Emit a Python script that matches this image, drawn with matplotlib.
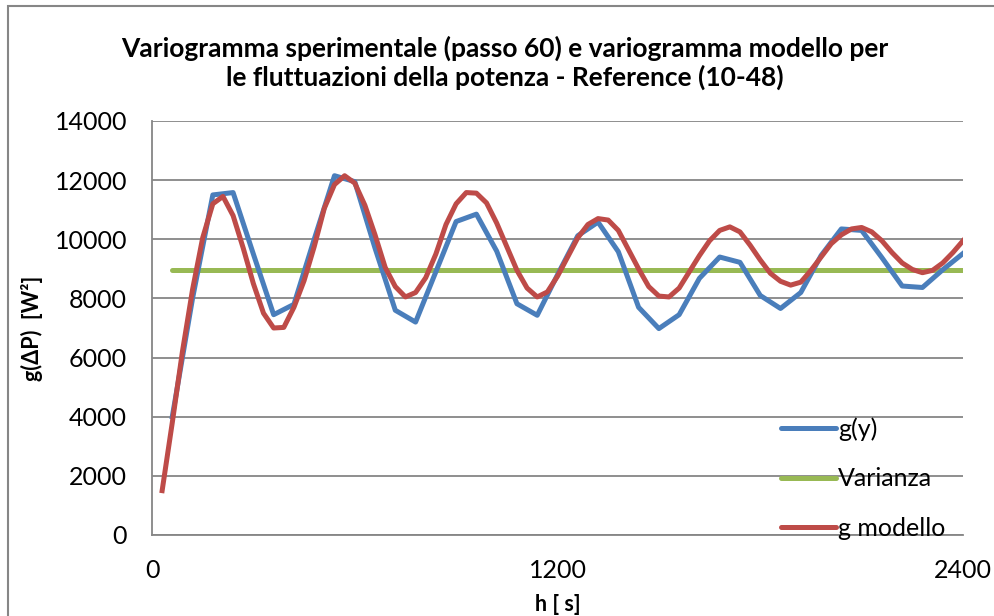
import matplotlib
matplotlib.use("Agg")
import matplotlib.pyplot as plt
from matplotlib.patches import Rectangle

plt.rcParams['font.family'] = ['Lato', 'DejaVu Sans']

# === dati ===
h_sper = [60, 120, 180, 240, 300, 360, 420, 480, 540, 600,
          660, 720, 780, 840, 900, 960, 1020, 1080, 1140, 1200,
          1260, 1320, 1380, 1440, 1500, 1560, 1620, 1680, 1740, 1800,
          1860, 1920, 1980, 2040, 2100, 2160, 2220, 2280, 2340, 2400]
g_sper = [4000, 8000, 11500, 11580, 9500, 7450, 7800, 10000, 12150, 11950,
          9700, 7600, 7200, 8900, 10600, 10850, 9600, 7820, 7430, 8800,
          10120, 10580, 9580, 7700, 6980, 7450, 8680, 9400, 9220, 8100,
          7660, 8200, 9450, 10350, 10300, 9380, 8420, 8370, 8970, 9520]

h_varianza = [60, 2400]
varianza = [8950, 8950]

h_mod = [30, 60, 90, 120, 150, 180, 210, 240, 270, 300,
         330, 360, 390, 420, 450, 480, 510, 540, 570, 600,
         630, 660, 690, 720, 750, 780, 810, 840, 870, 900,
         930, 960, 990, 1020, 1050, 1080, 1110, 1140, 1170, 1200,
         1230, 1260, 1290, 1320, 1350, 1380, 1410, 1440, 1470, 1500,
         1530, 1560, 1590, 1620, 1650, 1680, 1710, 1740, 1770, 1800,
         1830, 1860, 1890, 1920, 1950, 1980, 2010, 2040, 2070, 2100,
         2130, 2160, 2190, 2220, 2250, 2280, 2310, 2340, 2370, 2400]
g_mod = [1500, 3800, 6200, 8300, 10050, 11200, 11450, 10800, 9700, 8500,
         7500, 7000, 7020, 7700, 8600, 9750, 11050, 11850, 12150, 11900,
         11150, 10150, 9050, 8400, 8050, 8200, 8700, 9500, 10500, 11200,
         11580, 11560, 11230, 10550, 9750, 8950, 8350, 8050, 8220, 8750,
         9400, 10050, 10500, 10700, 10650, 10300, 9650, 9000, 8400, 8080,
         8050, 8350, 8900, 9450, 9950, 10300, 10420, 10250, 9800, 9300,
         8850, 8580, 8450, 8550, 8950, 9400, 9850, 10150, 10350, 10400,
         10250, 9950, 9550, 9200, 8980, 8870, 8950, 9200, 9550, 9950]

x_ticks = [0, 1200, 2400]
y_ticks = [0, 2000, 4000, 6000, 8000, 10000, 12000, 14000]

# === grafico ===
fig = plt.figure(figsize=(9.95, 6.16), dpi=100)
# cornice esterna stile Excel
fig.patches.append(Rectangle((8 / 995, -0.05), 1.1, 1 - 6 / 616 + 0.05,
                             transform=fig.transFigure, fill=False,
                             edgecolor='#868686', linewidth=1.5))

ax = fig.add_axes([152 / 995, 1 - 535 / 616, 811 / 995, 414 / 616])

ax.plot(h_sper, g_sper, color='#4a7ebb', lw=3.6, label='g(y)', zorder=3)
ax.plot(h_varianza, varianza, color='#98b954', lw=3.6, label='Varianza',
        solid_capstyle='round', zorder=2)
ax.plot(h_mod, g_mod, color='#be4b48', lw=3.6, label='g modello', zorder=4)

ax.set_xlim(0, 2400)
ax.set_ylim(0, 14000)
ax.set_xticks(x_ticks)
ax.set_yticks(y_ticks)
ax.tick_params(length=0, labelsize=18)
ax.tick_params(axis='y', pad=18)
ax.tick_params(axis='x', pad=17)
ax.grid(axis='y', color='#868686', lw=1.3)
ax.set_axisbelow(True)
for s in ['top', 'right']:
    ax.spines[s].set_visible(False)
for s in ['left', 'bottom']:
    ax.spines[s].set_color('#868686')
    ax.spines[s].set_linewidth(1.3)

ax.set_xlabel('h [ s]', fontsize=15.5, fontweight='bold', labelpad=9)
ax.set_ylabel('g(ΔP)  [W²]', fontsize=15.5, fontweight='bold', labelpad=8)

fig.text(0.507, 1 - 63 / 616,
         'Variogramma sperimentale (passo 60) e variogramma modello per\n'
         'le fluttuazioni della potenza - Reference (10-48)',
         ha='center', va='center', fontsize=19, fontweight='bold',
         linespacing=1.15)

leg = ax.legend(loc='upper left', bbox_to_anchor=(0.776, 0.285), frameon=False,
                fontsize=18, handlelength=2.2, handletextpad=0.08,
                labelspacing=1.07, borderaxespad=0, borderpad=0)
for line in leg.get_lines():
    line.set_solid_capstyle('round')

fig.savefig('out.png', dpi=100)
